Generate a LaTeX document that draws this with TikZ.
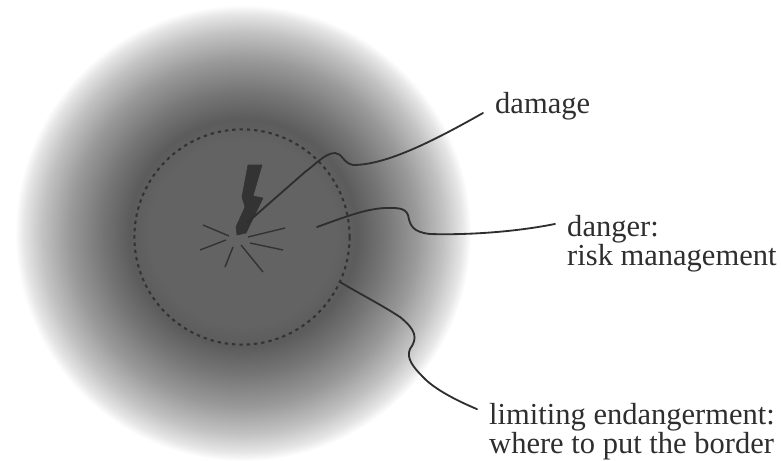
\documentclass[tikz,border=0pt]{standalone}
\usepackage{fontspec}
\setmainfont{Liberation Serif}
\usetikzlibrary{positioning}
\definecolor{tinta}{gray}{0.18}
\definecolor{borde}{gray}{0.2}
\pgfdeclareradialshading{aureola}{\pgfpointorigin}{
  gray(0bp)=(0.39); gray(10bp)=(0.39); gray(12.5bp)=(0.36);
  gray(15.5bp)=(0.46); gray(19bp)=(0.6); gray(22bp)=(0.76);
  gray(24bp)=(0.9); gray(25bp)=(1); gray(50bp)=(1)}
\begin{document}
\begin{tikzpicture}[x=0.025cm,y=-0.025cm,
  etiqueta/.style={font=\fontsize{21.7}{20}\selectfont,text=tinta,align=left,inner xsep=8.5pt,inner ysep=0pt},
  guia/.style={line width=1.3pt,color=tinta,line cap=round},
  frontera/.style={circle,draw=borde,line width=1.5pt,dash pattern=on 2.4pt off 2.8pt,minimum size=5.38cm,inner sep=0pt},
  chispa/.style={line width=1pt,color=borde}]
  \useasboundingbox (0,0) rectangle (781,460);
  \node[circle,shading=aureola,minimum size=11.4cm,inner sep=0pt] (halo) at (243,233) {};
  \node[frontera] (zona) at (242,237) {};
  % rayo y chispas
  \filldraw[fill=borde,draw=borde,line join=round] (248,165) -- (262,165) -- (253,196) -- (263,198)
     -- (246,233) -- (237,235) -- (236,227) -- (245,207) -- (242,197) -- cycle;
  \coordinate (punta) at (248,222);
  \draw[chispa] (229,236) -- (203,225);
  \draw[chispa] (226,240) -- (200,250);
  \draw[chispa] (233,247) -- (225,267);
  \draw[chispa] (241,245) -- (263,272);
  \draw[chispa] (250,243) -- (283,250);
  \draw[chispa] (248,237) -- (285,228);
  % etiquetas
  \node[etiqueta,anchor=base west] (e1) at (483,113) {damage};
  \node[etiqueta,anchor=base west] (e2) at (555,265) {danger:\\risk management};
  \node[etiqueta,anchor=base west] (e3) at (477,453) {limiting endangerment:\\where to put the border};
  \coordinate (c2) at (317,227);
  \coordinate (c3) at (340,282);
  \draw[guia] (e1.base west) .. controls (430,143) and (385,165) .. (353,165)
     .. controls (343,163) and (342,153) .. (335,153) .. controls (325,153) and (315,165) .. (305,172)
     -- (punta);
  \draw[guia] ([yshift=14pt]e2.west) .. controls (510,233) and (460,235) .. (430,234)
     .. controls (412,232) and (410,225) .. (408,215) .. controls (405,207) and (395,208) .. (385,208)
     .. controls (365,209) and (345,217) .. (c2);
  \draw[guia] ([yshift=16pt]e3.west) .. controls (460,402) and (435,390) .. (423,377)
     .. controls (413,367) and (406,358) .. (410,349) .. controls (418,338) and (416,330) .. (400,317)
     .. controls (380,304) and (360,294) .. (c3);
\end{tikzpicture}
\end{document}
